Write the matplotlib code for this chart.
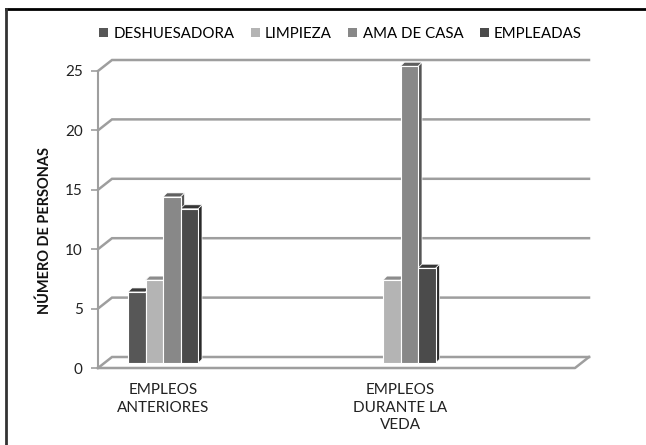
import matplotlib.pyplot as plt
from matplotlib.patches import Polygon, Rectangle, Patch
from matplotlib.lines import Line2D
import numpy as np

plt.rcParams['font.family'] = ['Lato', 'DejaVu Sans']

categories = ["EMPLEOS\nANTERIORES", "EMPLEOS\nDURANTE LA\nVEDA"]
series = ["DESHUESADORA", "LIMPIEZA", "AMA DE CASA", "EMPLEADAS"]
values = {
    "DESHUESADORA": [6, 0],
    "LIMPIEZA": [7, 7],
    "AMA DE CASA": [14, 25],
    "EMPLEADAS": [13, 8],
}
yticks = [0, 5, 10, 15, 20, 25]

# front / top / side shades for each series
front = ["#575757", "#b4b4b4", "#888888", "#4b4b4b"]
top = ["#3c3c3c", "#8c8c8c", "#5f5f5f", "#363636"]
side = ["#333333", "#7a7a7a", "#555555", "#2a2a2a"]

fig = plt.figure(figsize=(6.46, 4.45), dpi=100)
W, H = 646, 445
# axes box in pixels: front floor x=98, back wall right x=589, y0 at 368, top 50
ax = fig.add_axes([98 / W, (H - 368) / H, (589 - 98) / W, (368 - 50) / H])
pxx = 237.5            # px per category unit
pxy = 11.88            # px per y unit
xl = -65 / pxx
xr = xl + 491 / pxx
ax.set_xlim(xl, xr)
ax.set_ylim(0, 318 / pxy)
for s in ax.spines.values():
    s.set_visible(False)

# wall depth
dx = 14 / pxx
dy = 11 / pxy
grid_c = "#9e9e9e"
for v in yticks:
    ax.plot([xl, xl + dx, xr], [v, v + dy, v + dy], color=grid_c, lw=1.8,
            zorder=1, clip_on=False, solid_joinstyle="miter")
# floor front edge and right corner
ax.plot([xl, xr - dx, xr], [0, 0, dy], color=grid_c, lw=1.8, zorder=1,
        clip_on=False)
# front vertical axis
ax.plot([xl, xl], [0, 25], color=grid_c, lw=1.5, zorder=1, clip_on=False)

# bars
w = 17.5 / pxx
bdx = 4 / pxx
bdy = 4 / pxy
base = 0.4
for i, name in enumerate(series):
    for j, v in enumerate(values[name]):
        if v == 0:
            continue
        x0 = j + (i - 2) * w
        y0 = base
        y1 = base + v
        ax.add_patch(Polygon([[x0 + w, y0], [x0 + w + bdx, y0 + bdy],
                              [x0 + w + bdx, y1 + bdy], [x0 + w, y1]],
                             closed=True, facecolor=side[i], edgecolor="white",
                             lw=0.5, zorder=3))
        ax.add_patch(Polygon([[x0, y1], [x0 + w, y1], [x0 + w + bdx, y1 + bdy],
                              [x0 + bdx, y1 + bdy]],
                             closed=True, facecolor=top[i], edgecolor="white",
                             lw=0.5, zorder=3))
        ax.add_patch(Rectangle((x0, y0), w, v, facecolor=front[i],
                               edgecolor="white", lw=0.8, zorder=4))

ax.set_yticks(yticks)
ax.set_yticklabels([str(t) for t in yticks], fontsize=11, color="#222222")
ax.tick_params(axis="y", length=5, color=grid_c, width=1.2, pad=6)
ax.set_xticks([0, 1])
ax.set_xticklabels(categories, fontsize=11, color="#222222", linespacing=1.32)
ax.tick_params(axis="x", length=0, pad=11)
ax.set_ylabel("NÚMERO DE PERSONAS", fontsize=10.5, fontweight="bold",
              color="#111111")
ax.yaxis.set_label_coords(-46 / 491, (368 - 230) / 318)

handles = [Patch(facecolor=c, edgecolor="none") for c in front]
fig.legend(handles, series, loc="center", bbox_to_anchor=(0.527, 1 - 34 / H),
           ncol=4, frameon=False, fontsize=10.8, handlelength=0.6,
           handleheight=0.6, handletextpad=0.35, columnspacing=1.1)

# outer frame (top and left edges visible)
fig.add_artist(Line2D([6 / W, 1], [1 - 9 / H, 1 - 9 / H], color="black", lw=2,
                      transform=fig.transFigure))
fig.add_artist(Line2D([6 / W, 6 / W], [0, 1 - 9 / H], color="#333333", lw=2,
                      transform=fig.transFigure))

fig.savefig("out.png", dpi=100)
